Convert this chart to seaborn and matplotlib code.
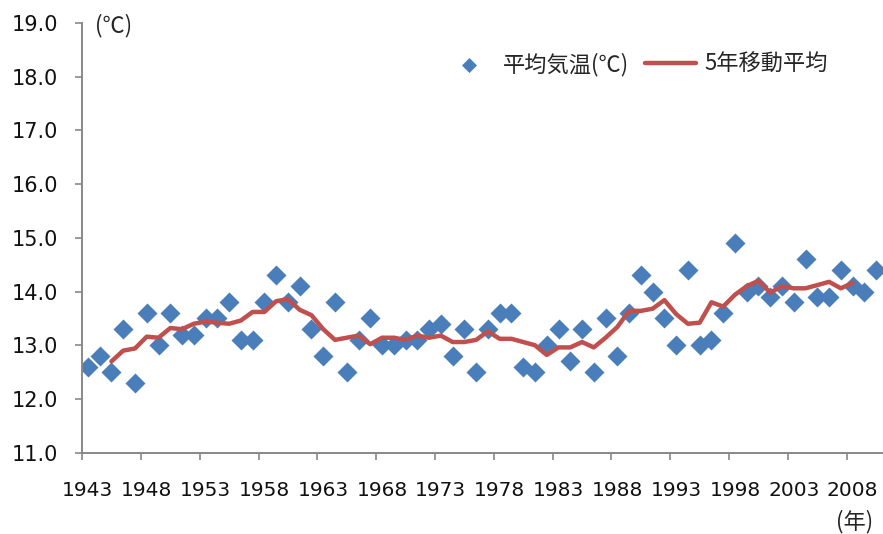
import numpy as np
import pandas as pd
import seaborn as sns
import matplotlib.pyplot as plt
from matplotlib.ticker import FixedLocator, FormatStrFormatter

# annual mean temperature, 1943-2010
years = list(range(1943, 2011))
temps = [12.6, 12.8, 12.5, 13.3, 12.3, 13.6, 13.0, 13.6, 13.2, 13.2,
         13.5, 13.5, 13.8, 13.1, 13.1, 13.8, 14.3, 13.8, 14.1, 13.3,
         12.8, 13.8, 12.5, 13.1, 13.5, 13.0, 13.0, 13.1, 13.1, 13.3,
         13.4, 12.8, 13.3, 12.5, 13.3, 13.6, 13.6, 12.6, 12.5, 13.0,
         13.3, 12.7, 13.3, 12.5, 13.5, 12.8, 13.6, 14.3, 14.0, 13.5,
         13.0, 14.4, 13.0, 13.1, 13.6, 14.9, 14.0, 14.1, 13.9, 14.1,
         13.8, 14.6, 13.9, 13.9, 14.4, 14.1, 14.0, 14.4]

# 5-year moving average, 1945-2008
ma_years = list(range(1945, 2009))
ma_vals = [12.70, 12.90, 12.94, 13.16, 13.14, 13.32, 13.30, 13.40, 13.44, 13.42,
           13.40, 13.46, 13.62, 13.62, 13.82, 13.86, 13.66, 13.56, 13.30, 13.10,
           13.14, 13.18, 13.02, 13.14, 13.14, 13.10, 13.18, 13.14, 13.18, 13.06,
           13.06, 13.10, 13.26, 13.12, 13.12, 13.06, 13.00, 12.82, 12.96, 12.96,
           13.06, 12.96, 13.14, 13.34, 13.64, 13.64, 13.68, 13.84, 13.58, 13.40,
           13.42, 13.80, 13.72, 13.94, 14.10, 14.20, 13.98, 14.10, 14.06, 14.06,
           14.12, 14.18, 14.06, 14.16]

label_temp = '平均気温(℃)'
label_ma = '5年移動平均'

df = pd.DataFrame({'year': years, 'temp': temps})
df_ma = pd.DataFrame({'year': ma_years, 'ma': ma_vals})

sns.set_style('white')
plt.rcParams['font.family'] = ['DejaVu Sans', 'Noto Sans CJK JP']

fig = plt.figure(figsize=(8.83, 5.34), dpi=100)
ax = fig.add_axes([0.0929, 0.1522, 0.906, 0.805])

sns.scatterplot(data=df, x='year', y='temp', marker='D', s=104, color='#4A7EBB',
                linewidth=0, label=label_temp, ax=ax, zorder=2)
sns.lineplot(data=df_ma, x='year', y='ma', color='#C0504D', linewidth=3.2,
             label=label_ma, ax=ax, zorder=3)

ax.set_xlim(1942.5, 2010.5)
ax.set_ylim(11, 19)
ax.set_xlabel('')
ax.set_ylabel('')

ax.xaxis.set_major_locator(FixedLocator(list(range(1943, 2009, 5))))
ax.xaxis.set_minor_locator(FixedLocator([1942.5 + 5 * k for k in range(14)]))
ax.yaxis.set_major_locator(FixedLocator(list(range(11, 20))))
ax.yaxis.set_major_formatter(FormatStrFormatter('%.1f'))

ax.tick_params(axis='x', which='major', length=0, pad=20, labelsize=14.5, labelcolor='#111111')
ax.tick_params(axis='x', which='minor', direction='out', length=5, width=1.2,
               color='#888888', bottom=True)
ax.tick_params(axis='y', direction='out', length=5, width=1.2, color='#888888',
               pad=12, labelsize=15, labelcolor='#111111', left=True)

for side in ['top', 'right']:
    ax.spines[side].set_visible(False)
for side in ['left', 'bottom']:
    ax.spines[side].set_color('#888888')
    ax.spines[side].set_linewidth(1.4)

leg = ax.legend(loc='center', bbox_to_anchor=(0.692, 0.904), ncol=2, frameon=False,
                prop={'family': ['Noto Sans CJK JP'], 'size': 16},
                handlelength=2.3, handletextpad=0.4, columnspacing=0.7, markerscale=0.75)

fig.text(0.1076, 0.953, '(℃)', fontsize=16, va='center', ha='left',
         family=['Noto Sans CJK JP', 'DejaVu Sans'])
fig.text(0.989, 0.0225, '(年)', fontsize=16, va='center', ha='right',
         family=['Noto Sans CJK JP', 'DejaVu Sans'])

fig.savefig('out.png', dpi=100)
